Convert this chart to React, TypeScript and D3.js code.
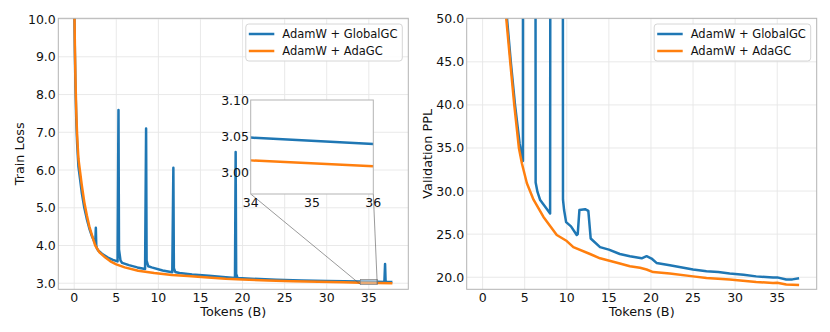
import React, { useEffect, useRef } from "react";
import * as d3 from "d3";

// Train loss, AdamW + AdaGC (orange)
const trainAdaX = [0, 0.08, 0.15, 0.25, 0.35, 0.5, 0.7, 0.9, 1.2, 1.5, 1.8, 2.1, 2.5, 3.0, 3.7, 4.3, 5.0, 6.0, 7.6, 9.5, 11.6, 13.5, 15.5, 18, 20, 23, 26, 29, 32, 34, 36, 37.8];
const trainAdaY = [10.6, 9.3, 8.4, 7.5, 6.9, 6.3, 5.95, 5.6, 5.15, 4.8, 4.5, 4.28, 4.0, 3.82, 3.68, 3.58, 3.5, 3.42, 3.33, 3.27, 3.22, 3.19, 3.16, 3.12, 3.1, 3.075, 3.055, 3.04, 3.027, 3.0165, 3.0085, 3.002];

// Train loss, AdamW + GlobalGC (blue)
const trainGlobX = [0, 0.08, 0.15, 0.25, 0.35, 0.5, 0.7, 0.9, 1.2, 1.5, 1.8, 2.1, 2.5, 2.57, 2.62, 2.7, 2.88, 3.3, 4.0, 4.6, 5.15, 5.26, 5.32, 5.5, 5.7, 6.5, 7.5, 8.42, 8.54, 8.6, 8.8, 9.2, 10.5, 11.65, 11.78, 11.84, 12.0, 12.5, 14, 16, 18, 19.1, 19.18, 19.24, 19.4, 21, 24, 27, 30, 32, 34, 36, 36.85, 36.93, 36.99, 37.1, 37.8];
const trainGlobY = [10.5, 9.1, 8.2, 7.3, 6.7, 6.1, 5.75, 5.4, 5.0, 4.7, 4.45, 4.25, 4.05, 4.47, 4.0, 3.92, 3.86, 3.78, 3.68, 3.62, 3.58, 7.59, 3.9, 3.6, 3.54, 3.48, 3.42, 3.38, 7.1, 3.6, 3.45, 3.42, 3.34, 3.29, 6.06, 3.4, 3.3, 3.27, 3.23, 3.2, 3.16, 3.14, 6.48, 3.25, 3.14, 3.12, 3.09, 3.07, 3.057, 3.052, 3.048, 3.039, 3.036, 3.51, 3.06, 3.04, 3.035];

// Validation PPL, AdamW + AdaGC (orange)
const valAdaX = [2.7, 2.81, 3.28, 3.76, 4.31, 4.67, 5.26, 6.05, 7.23, 8.81, 10.0, 10.78, 12.76, 13.95, 16.3, 17.5, 18.7, 19.48, 20.26, 22.24, 25.0, 26.6, 29.35, 32.5, 34.5, 35, 36.07, 37.6];
const valAdaY = [52, 50, 45, 40, 35, 33.2, 30.9, 29.0, 27.0, 24.9, 24.2, 23.5, 22.7, 22.2, 21.6, 21.28, 21.1, 20.9, 20.6, 20.43, 20.1, 19.92, 19.73, 19.45, 19.34, 19.35, 19.15, 19.1];

// Validation PPL, AdamW + GlobalGC (blue)
const valGlobX = [2.8, 2.9, 3.35, 3.85, 4.4, 4.79, 4.8, 6.27, 6.3, 6.52, 6.84, 7.5, 8.02, 8.06, 9.52, 9.55, 9.68, 9.92, 10.5, 11.18, 11.3, 11.5, 12.17, 12.56, 12.84, 13.95, 15, 16.3, 17.5, 18.9, 19.48, 20.07, 20.66, 22.24, 25.0, 26.6, 28, 29.35, 31, 32.5, 34.5, 35, 36.07, 36.8, 37.6];
const valGlobY = [52, 50, 45, 40, 35.5, 33.5, 80, 80, 31, 29.9, 28.95, 28.1, 27.4, 80, 80, 29, 27.8, 26.4, 25.9, 24.9, 25.0, 27.8, 27.9, 27.7, 24.5, 23.5, 23.2, 22.7, 22.44, 22.2, 22.44, 22.17, 21.66, 21.4, 20.9, 20.7, 20.6, 20.43, 20.3, 20.1, 19.96, 19.98, 19.73, 19.75, 19.88];

const xTicks = [0, 5, 10, 15, 20, 25, 30, 35];
const trainTicks = [3, 4, 5, 6, 7, 8, 9, 10];
const valTicks = [20, 25, 30, 35, 40, 45, 50];
const insetXTicks = [34, 35, 36];
const insetYTicks = [3.0, 3.05, 3.1];
const seriesNames = ["AdamW + GlobalGC", "AdamW + AdaGC"];

const BLUE = "#1f77b4";
const ORANGE = "#ff7f0e";
const FONT = "DejaVu Sans, sans-serif";
const LW = 2.5;

const zip = (xs: number[], ys: number[]) => xs.map((x, i) => [x, ys[i]] as [number, number]);

const App = () => {
  const ref = useRef<SVGSVGElement>(null);

  useEffect(() => {
    const svg = d3.select(ref.current);
    svg.selectAll("*").remove();

    const drawPanel = (
      id: string,
      left: number,
      yDomain: [number, number],
      yTicks: number[],
      yLabel: string,
      yLabelX: number,
      blue: [number, number][],
      orange: [number, number][]
    ) => {
      const top = 18.3, bottom = 289.3, right = left + 350;
      const x = d3.scaleLinear().domain([-1.89, 39.69]).range([left, right]);
      const y = d3.scaleLinear().domain(yDomain).range([bottom, top]);
      const g = svg.append("g");

      g.append("clipPath").attr("id", id).append("rect")
        .attr("x", left).attr("y", top).attr("width", right - left).attr("height", bottom - top);

      // grid
      g.selectAll(".gx").data(xTicks).enter().append("line")
        .attr("x1", (d) => x(d)).attr("x2", (d) => x(d)).attr("y1", top).attr("y2", bottom)
        .attr("stroke", "#e6e6e6").attr("stroke-width", 0.9);
      g.selectAll(".gy").data(yTicks).enter().append("line")
        .attr("y1", (d) => y(d)).attr("y2", (d) => y(d)).attr("x1", left).attr("x2", right)
        .attr("stroke", "#e6e6e6").attr("stroke-width", 0.9);

      const line = d3.line<[number, number]>().x((d) => x(d[0])).y((d) => y(d[1]));
      const lines = g.append("g").attr("clip-path", `url(#${id})`);
      lines.append("path").attr("d", line(blue)).attr("fill", "none")
        .attr("stroke", BLUE).attr("stroke-width", LW).attr("stroke-linejoin", "round");
      lines.append("path").attr("d", line(orange)).attr("fill", "none")
        .attr("stroke", ORANGE).attr("stroke-width", LW).attr("stroke-linejoin", "round");

      // spines
      g.append("rect").attr("x", left).attr("y", top).attr("width", right - left).attr("height", bottom - top)
        .attr("fill", "none").attr("stroke", "#b3b3b3").attr("stroke-width", 1);

      // tick labels
      g.selectAll(".tx").data(xTicks).enter().append("text")
        .attr("x", (d) => x(d)).attr("y", 301.5).attr("text-anchor", "middle")
        .attr("font-family", FONT).attr("font-size", 12.5).attr("fill", "#111").text((d) => d);
      g.selectAll(".ty").data(yTicks).enter().append("text")
        .attr("x", left - 2.5).attr("y", (d) => y(d)).attr("dy", "0.36em").attr("text-anchor", "end")
        .attr("font-family", FONT).attr("font-size", 12.5).attr("fill", "#111").text((d) => d3.format(".1f")(d));

      g.append("text").attr("x", (left + right) / 2).attr("y", 315.5).attr("text-anchor", "middle")
        .attr("font-family", FONT).attr("font-size", 12.8).attr("fill", "#111").text("Tokens (B)");
      g.append("text").attr("transform", `translate(${yLabelX},${(top + bottom) / 2}) rotate(-90)`)
        .attr("text-anchor", "middle").attr("dy", "0.36em")
        .attr("font-family", FONT).attr("font-size", 12.8).attr("fill", "#111").text(yLabel);

      // legend
      const lx = right - 162.5, ly = 24;
      const lg = g.append("g");
      lg.append("rect").attr("x", lx).attr("y", ly).attr("width", 156.5).attr("height", 37).attr("rx", 3)
        .attr("fill", "white").attr("fill-opacity", 0.85).attr("stroke", "#d6d6d6");
      [BLUE, ORANGE].forEach((c, i) => {
        const yy = ly + 10 + i * 17;
        lg.append("line").attr("x1", lx + 3).attr("x2", lx + 28.5).attr("y1", yy).attr("y2", yy)
          .attr("stroke", c).attr("stroke-width", LW);
        lg.append("text").attr("x", lx + 36.5).attr("y", yy).attr("dy", "0.36em")
          .attr("font-family", FONT).attr("font-size", 11.5).attr("fill", "#111").text(seriesNames[i]);
      });

      return { g, x, y };
    };

    const blueTrain = zip(trainGlobX, trainGlobY);
    const orangeTrain = zip(trainAdaX, trainAdaY);
    const leftPanel = drawPanel("clipL", 58.3, [2.84, 10.02], trainTicks, "Train Loss", 19.5, blueTrain, orangeTrain);
    drawPanel("clipR", 466.7, [18.6, 50.05], valTicks, "Validation PPL", 427.5,
      zip(valGlobX, valGlobY), zip(valAdaX, valAdaY));

    // inset zoom on the train loss
    const { x: mx, y: my } = leftPanel;
    const ix = d3.scaleLinear().domain([34, 36]).range([250.7, 373.3]);
    const iy = d3.scaleLinear().domain([2.97, 3.1]).range([194, 100]);
    const ig = svg.append("g");

    // indicator rectangle and connectors
    ig.append("rect").attr("x", mx(34)).attr("y", my(3.1)).attr("width", mx(36) - mx(34)).attr("height", my(2.97) - my(3.1))
      .attr("fill", "#cfd6dc").attr("fill-opacity", 0.5).attr("stroke", "#8a8a8a").attr("stroke-width", 0.8);
    ig.append("line").attr("x1", ix(34)).attr("y1", iy(2.97)).attr("x2", mx(34)).attr("y2", my(2.97))
      .attr("stroke", "#555").attr("stroke-width", 0.6);
    ig.append("line").attr("x1", ix(36)).attr("y1", iy(2.97)).attr("x2", mx(36)).attr("y2", my(2.97))
      .attr("stroke", "#555").attr("stroke-width", 0.6);

    ig.append("rect").attr("x", 250.7).attr("y", 100).attr("width", 122.6).attr("height", 94).attr("fill", "white");
    ig.append("clipPath").attr("id", "clipI").append("rect")
      .attr("x", 250.7).attr("y", 100).attr("width", 122.6).attr("height", 94);
    const iline = d3.line<[number, number]>().x((d) => ix(d[0])).y((d) => iy(d[1]));
    const il = ig.append("g").attr("clip-path", "url(#clipI)");
    il.append("path").attr("d", iline(blueTrain)).attr("fill", "none").attr("stroke", BLUE).attr("stroke-width", LW);
    il.append("path").attr("d", iline(orangeTrain)).attr("fill", "none").attr("stroke", ORANGE).attr("stroke-width", LW);
    ig.append("rect").attr("x", 250.7).attr("y", 100).attr("width", 122.6).attr("height", 94)
      .attr("fill", "none").attr("stroke", "#b3b3b3");

    ig.selectAll(".ix").data(insetXTicks).enter().append("text")
      .attr("x", (d) => ix(d)).attr("y", 206.5).attr("text-anchor", "middle")
      .attr("font-family", FONT).attr("font-size", 12.5).attr("fill", "#111").text((d) => d);
    ig.selectAll(".iy").data(insetYTicks).enter().append("text")
      .attr("x", 249).attr("y", (d) => iy(d)).attr("dy", "0.36em").attr("text-anchor", "end")
      .attr("font-family", FONT).attr("font-size", 12.5).attr("fill", "#111").text((d) => d3.format(".2f")(d));
  }, []);

  return (
    <svg ref={ref} width={830} height={332}
      style={{ position: "absolute", left: 0, top: 0, background: "white" }} />
  );
};

export default App;
